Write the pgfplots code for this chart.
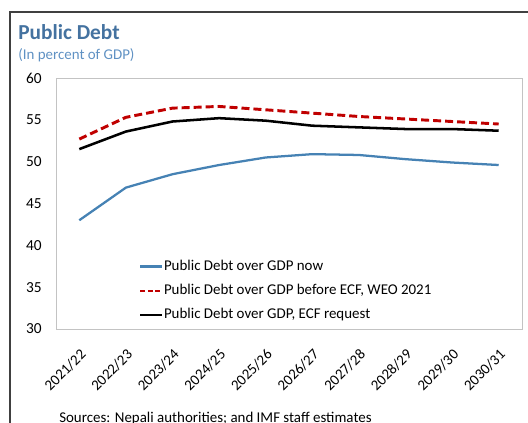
\documentclass[border=0pt]{standalone}
\usepackage{fontspec}
\setmainfont{Carlito}
\usepackage{pgfplots}
\pgfplotsset{compat=1.18}
\definecolor{ttlblue}{RGB}{68,114,160}
\definecolor{subblue}{RGB}{95,145,195}
\definecolor{lblue}{RGB}{70,130,180}
\definecolor{dred}{RGB}{192,0,0}
\definecolor{framegray}{RGB}{195,195,195}
\begin{document}
\begin{tikzpicture}[x=0.75pt,y=0.75pt]
\useasboundingbox (0,0) rectangle (528,422);
\draw[line width=1.5pt, black!75] (10,-5) -- (10,410) -- (535,410);
\node[anchor=base west, font=\bfseries\fontsize{16}{18}\selectfont, text=ttlblue, inner sep=0pt] at (18,382) {Public Debt};
\node[anchor=base west, font=\fontsize{11.2}{13}\selectfont, text=subblue, inner sep=0pt] at (18,362) {(In percent of GDP)};
\node[anchor=base west, font=\fontsize{11.2}{13}\selectfont, inner sep=0pt] at (59,-0.5) {Sources: Nepali authorities; and IMF staff estimates};
\begin{axis}[
  at={(42pt,69.75pt)}, anchor=south west,
  scale only axis, width=349.5pt, height=188.25pt,
  xmin=-0.5, xmax=9.5, ymin=30, ymax=60,
  xtick={0,...,9},
  xticklabels={2021/22,2022/23,2023/24,2024/25,2025/26,2026/27,2027/28,2028/29,2029/30,2030/31},
  x tick label style={yshift=-14pt, rotate=45, anchor=north east, font=\fontsize{11.2}{13}\selectfont, inner sep=0pt},
  ytick={30,35,...,60},
  y tick label style={anchor=east, inner sep=0pt, xshift=-10.5pt, font=\fontsize{11.5}{14}\selectfont},
  /pgf/number format/assume math mode=true,
  major tick length=0pt,
  axis line style={framegray, line width=0.75pt},
  legend style={draw=none, fill=none, at={(0.178,0.28)}, anchor=north west,
    font=\fontsize{11.2}{13}\selectfont, row sep=6.8pt, inner sep=0pt,
    nodes={inner sep=1pt}},
  legend cell align=left,
  legend image code/.code={\draw[#1, line width=1.6pt] (0pt,0pt) -- (16pt,0pt);},
]
\addplot[lblue, line width=1.7pt] coordinates {(0,43.0) (1,46.9) (2,48.5) (3,49.6) (4,50.5) (5,50.9) (6,50.8) (7,50.3) (8,49.9) (9,49.6)};
\addlegendentry{Public Debt over GDP now}
\addplot[dred, line width=2.2pt, dash pattern=on 6pt off 3pt, legend image post style={dash pattern=on 3.5pt off 2.2pt}] coordinates {(0,52.7) (1,55.3) (2,56.4) (3,56.6) (4,56.2) (5,55.8) (6,55.4) (7,55.1) (8,54.8) (9,54.5)};
\addlegendentry{Public Debt over GDP before ECF, WEO 2021}
\addplot[black, line width=1.9pt] coordinates {(0,51.5) (1,53.6) (2,54.8) (3,55.2) (4,54.9) (5,54.3) (6,54.1) (7,53.9) (8,53.9) (9,53.7)};
\addlegendentry{Public Debt over GDP, ECF request}
\end{axis}
\end{tikzpicture}
\end{document}
